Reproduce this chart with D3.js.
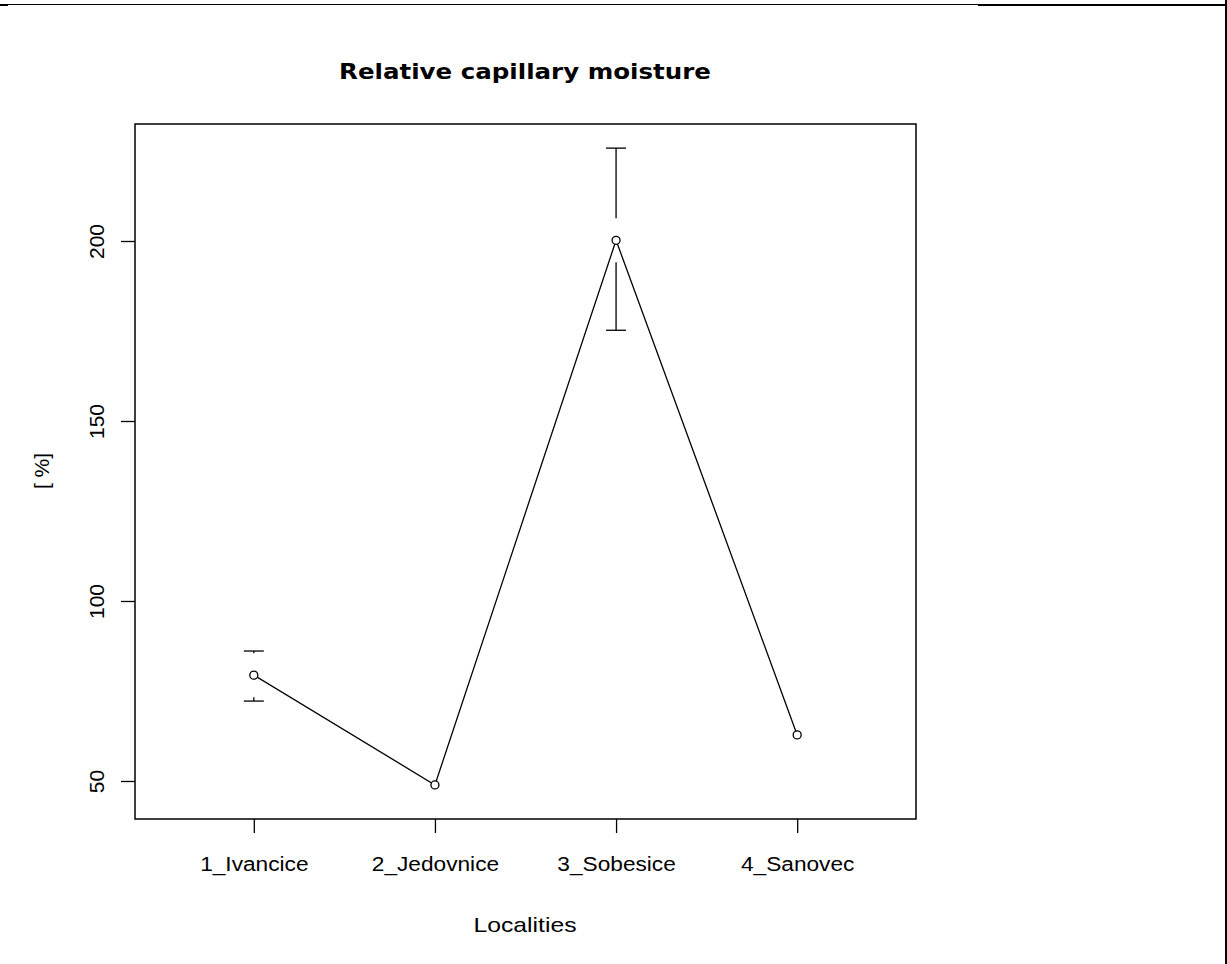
<!DOCTYPE html>
<html>
<head>
<meta charset="utf-8">
<script src="https://cdn.jsdelivr.net/npm/d3@7"></script>
<style>
  body { margin: 0; background: #fff; }
  text { font-family: "Liberation Sans", Arial, sans-serif; fill: #000; }
</style>
</head>
<body>
<div class="chart"></div>
<script>
// data
var localities = ["1_Ivancice", "2_Jedovnice", "3_Sobesice", "4_Sanovec"];
var means = [79.4, 48.9, 200.2, 62.8];
var upper = [86.1, null, 225.8, null];
var lower = [72.2, null, 175.2, null];
var yTicks = [50, 100, 150, 200];

var W = 1227, H = 964,
  box = {left: 135, right: 916, top: 124, bottom: 819},
  sx = 1.08; // labels in the original are drawn a little wide

var svg = d3.select(".chart").append("svg")
  .attr("width", W)
  .attr("height", H);

var x = d3.scaleLinear().domain([0.344, 4.656]).range([box.left, box.right]),
  y = d3.scaleLinear().domain([39.44, 232.5]).range([box.bottom, box.top]);

// frame lines of the page around the plot
svg.append("line").attr("x1", 0).attr("x2", 978).attr("y1", 4.5).attr("y2", 4.5)
  .attr("stroke", "#000").attr("stroke-width", 1);
svg.append("line").attr("x1", 978).attr("x2", W).attr("y1", 5).attr("y2", 5)
  .attr("stroke", "#000").attr("stroke-width", 2);
svg.append("line").attr("x1", 0).attr("x2", 8).attr("y1", 5).attr("y2", 5)
  .attr("stroke", "#000").attr("stroke-width", 2);
svg.append("line").attr("x1", 1226).attr("x2", 1226).attr("y1", 0).attr("y2", H)
  .attr("stroke", "#000").attr("stroke-width", 2);

// plot box
svg.append("rect")
  .attr("x", box.left).attr("y", box.top)
  .attr("width", box.right - box.left).attr("height", box.bottom - box.top)
  .attr("fill", "none").attr("stroke", "#000").attr("stroke-width", 1.5);

// axes
var xAxis = svg.append("g")
  .attr("transform", "translate(0," + box.bottom + ")")
  .call(d3.axisBottom(x).tickValues([1, 2, 3, 4]).tickSize(14).tickSizeOuter(0)
    .tickFormat(function(d) { return localities[d - 1]; }));
xAxis.select(".domain").remove();
xAxis.selectAll(".tick line").attr("stroke-width", 1.3);
xAxis.selectAll(".tick text")
  .attr("y", 0).attr("dy", 0)
  .attr("transform", "translate(0,52) scale(" + sx + ",1)")
  .style("font-size", "21px");

var yAxis = svg.append("g")
  .attr("transform", "translate(" + box.left + ",0)")
  .call(d3.axisLeft(y).tickValues(yTicks).tickSize(14).tickSizeOuter(0));
yAxis.select(".domain").remove();
yAxis.selectAll(".tick line").attr("stroke-width", 1.3);
yAxis.selectAll(".tick text")
  .attr("x", 0).attr("dy", 0)
  .attr("text-anchor", "middle")
  .attr("transform", "translate(-31,0) rotate(-90)")
  .style("font-size", "21px");

// titles
svg.append("text")
  .attr("x", 525).attr("y", 79)
  .attr("text-anchor", "middle")
  .attr("textLength", 372)
  .attr("lengthAdjust", "spacingAndGlyphs")
  .style("font-family", "'DejaVu Sans', sans-serif")
  .style("font-size", "22px")
  .style("font-weight", "bold")
  .text("Relative capillary moisture");

svg.append("text")
  .attr("x", 525).attr("y", 932)
  .attr("text-anchor", "middle")
  .attr("textLength", 103)
  .attr("lengthAdjust", "spacingAndGlyphs")
  .style("font-size", "21px")
  .text("Localities");

svg.append("text")
  .attr("transform", "translate(49,471) rotate(-90)")
  .attr("text-anchor", "middle")
  .style("font-size", "21px")
  .text("[ %]");

// error bars, with a gap round the point
var gap = 22, cap = 10;
var bars = svg.append("g").attr("stroke", "#000").attr("stroke-width", 1.3);
means.forEach(function(m, i) {
  if (upper[i] == null) return;
  var cx = x(i + 1), cy = y(m), yu = y(upper[i]), yl = y(lower[i]);
  if (yu < cy - gap) bars.append("line").attr("x1", cx).attr("x2", cx).attr("y1", yu).attr("y2", cy - gap);
  if (yl > cy + gap) bars.append("line").attr("x1", cx).attr("x2", cx).attr("y1", cy + gap).attr("y2", yl);
  bars.append("line").attr("x1", cx - cap).attr("x2", cx + cap).attr("y1", yu).attr("y2", yu);
  bars.append("line").attr("x1", cx - cap).attr("x2", cx + cap).attr("y1", yl).attr("y2", yl);
});

// line and points
var line = d3.line()
  .x(function(d, i) { return x(i + 1); })
  .y(function(d) { return y(d); });

svg.append("path")
  .datum(means)
  .attr("d", line)
  .attr("fill", "none")
  .attr("stroke", "#000")
  .attr("stroke-width", 1.3);

svg.selectAll(".pt")
  .data(means)
  .enter().append("circle")
  .attr("class", "pt")
  .attr("cx", function(d, i) { return x(i + 1); })
  .attr("cy", function(d) { return y(d); })
  .attr("r", 4)
  .attr("fill", "#fff")
  .attr("stroke", "#000")
  .attr("stroke-width", 1.3);
</script>
</body>
</html>
